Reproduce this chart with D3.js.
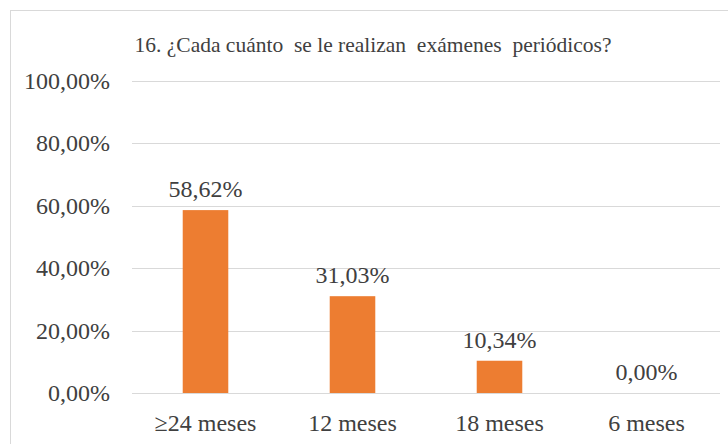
<!DOCTYPE html>
<html>
<head>
<meta charset="utf-8">
<script src="https://cdn.jsdelivr.net/npm/d3@7"></script>
</head>
<body style="margin:0">
<script>
// data
var categories = ["\u226524 meses", "12 meses", "18 meses", "6 meses"];
var values = [58.62, 31.03, 10.34, 0.00];
var yTicks = [0, 20, 40, 60, 80, 100];
var title = "16. \u00bfCada cu\u00e1nto  se le realizan  ex\u00e1menes  peri\u00f3dicos?";

var w = 728, h = 444;

var svg = d3.select("body").append("svg")
    .attr("width", w)
    .attr("height", h);

// chart frame
svg.append("rect")
    .attr("x", 10.5).attr("y", 10.5)
    .attr("width", w - 10).attr("height", h - 10)
    .attr("fill", "none")
    .attr("stroke", "#d9d9d9");

var fmt = function(v) { return v.toFixed(2).replace(".", ",") + "%"; };

var x = d3.scaleBand()
    .domain(categories)
    .range([132, 720])
    .padding(0);

var y = d3.scaleLinear()
    .domain([0, 100])
    .range([393, 81]);

// gridlines
svg.selectAll("line.grid")
    .data(yTicks)
    .enter().append("line")
    .attr("class", "grid")
    .attr("x1", 132).attr("x2", 720)
    .attr("y1", function(d) { return Math.round(y(d)) + 0.5; })
    .attr("y2", function(d) { return Math.round(y(d)) + 0.5; })
    .attr("stroke", "#d9d9d9")
    .attr("stroke-width", 1);

// y labels
svg.selectAll("text.ytick")
    .data(yTicks)
    .enter().append("text")
    .attr("class", "ytick")
    .style("font-family", "'Times New Roman'")
    .style("font-size", "24px")
    .attr("fill", "#404040")
    .attr("x", 110)
    .attr("y", function(d) { return y(d) + 8; })
    .attr("text-anchor", "end")
    .text(function(d) { return fmt(d); });

var bw = x.bandwidth() * 0.31;

// bars
svg.selectAll("rect.bar")
    .data(values)
    .enter().append("rect")
    .attr("class", "bar")
    .attr("x", function(d, i) { return x(categories[i]) + x.bandwidth() / 2 - bw / 2; })
    .attr("y", function(d) { return y(d); })
    .attr("width", bw)
    .attr("height", function(d) { return y(0) - y(d); })
    .attr("fill", "#ed7d31");

// value labels
svg.selectAll("text.val")
    .data(values)
    .enter().append("text")
    .attr("class", "val")
    .style("font-family", "'Times New Roman'")
    .style("font-size", "24px")
    .attr("fill", "#404040")
    .attr("x", function(d, i) { return x(categories[i]) + x.bandwidth() / 2; })
    .attr("y", function(d) { return y(d) - 13; })
    .attr("text-anchor", "middle")
    .text(function(d) { return fmt(d); });

// category labels
svg.selectAll("text.cat")
    .data(categories)
    .enter().append("text")
    .attr("class", "cat")
    .style("font-family", "'Times New Roman'")
    .style("font-size", "24px")
    .attr("fill", "#404040")
    .attr("x", function(d) { return x(d) + x.bandwidth() / 2; })
    .attr("y", 431)
    .attr("text-anchor", "middle")
    .text(function(d) { return d; });

// title
svg.append("text")
    .style("font-family", "'Times New Roman'")
    .style("font-size", "21.5px")
    .style("white-space", "pre")
    .attr("fill", "#404040")
    .attr("x", 373)
    .attr("y", 52)
    .attr("text-anchor", "middle")
    .text(title);
</script>
</body>
</html>
